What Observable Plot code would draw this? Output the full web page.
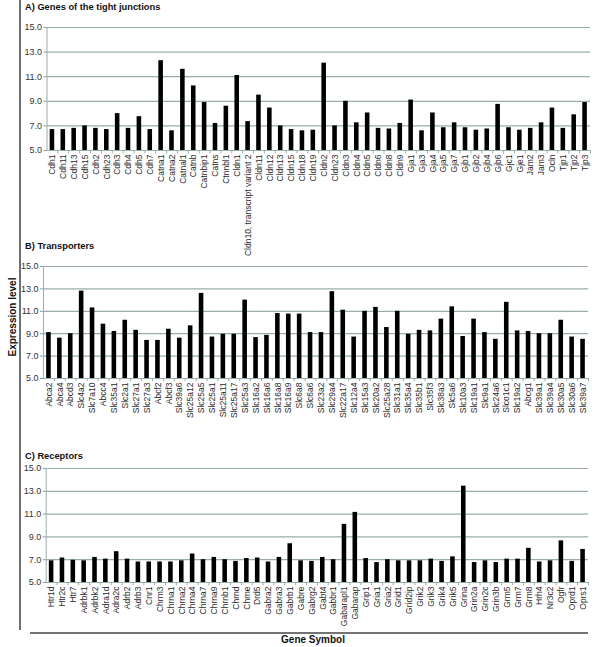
<!DOCTYPE html>
<html>
<head>
<meta charset="utf-8">
<script src="https://cdn.jsdelivr.net/npm/d3@7"></script>
<script src="https://cdn.jsdelivr.net/npm/@observablehq/plot@0.6"></script>
<style>
  body { margin: 0; background: #fff; }
  #fig { position: relative; width: 600px; height: 647px; overflow: hidden; font-family: "Liberation Sans", Arial, sans-serif; }
  #fig > svg { position: absolute; left: 0; }
  g[aria-label="y-axis tick"] { stroke: #8c9c9c; }
  g[aria-label="y-axis tick label"] { fill: #333; font-size: 9px; }
  g[aria-label="x-axis tick label"] { fill: #2a2a2a; }
</style>
</head>
<body>
<div id="fig"></div>
<script>
const yTicks = [5, 7, 9, 11, 13, 15];

const genesA = ["Cdh1","Cdh11","Cdh13","Cdh15","Cdh2","Cdh23","Cdh3","Cdh4","Cdh5","Cdh7",
  "Catna1","Catna2","Catnal1","Catnb","Catnbip1","Catns","Ctnnbl1","Cldn1","Cldn10, transcript variant 2","Cldn11",
  "Cldn12","Cldn13","Cldn15","Cldn18","Cldn19","Cldn2","Cldn23","Cldn3","Cldn4","Cldn5",
  "Cldn6","Cldn8","Cldn9","Gja1","Gja3","Gja4","Gja5","Gja7","Gjb1","Gjb2",
  "Gjb4","Gjb6","Gjc1","Gje1","Jam2","Jam3","Ocln","Tjp1","Tjp2","Tjp3"];
const valuesA = [6.7,6.7,6.8,7.0,6.8,6.7,8.0,6.8,7.75,6.7,
  12.3,6.6,11.6,10.25,8.9,7.2,8.6,11.1,7.35,9.5,
  8.45,7.0,6.7,6.6,6.65,12.1,7.0,9.0,7.25,8.05,
  6.8,6.75,7.2,9.1,6.6,8.05,6.85,7.25,6.85,6.65,
  6.75,8.75,6.85,6.65,6.8,7.25,8.45,6.8,7.9,8.9];

const genesB = ["Abca2","Abca4","Abcd3","Slc4a2","Slc7a10","Abcc4","Slc35a1","Slc2a1","Slc27a1","Slc27a3",
  "Abcf2","Abcf3","Slc39a6","Slc25a12","Slc25a5","Slc25a1","Slc25a11","Slc25a17","Slc25a3","Slc16a2",
  "Slc16a6","Slc16a8","Slc16a9","Slc6a8","Slc6a6","Slc23a2","Slc29a4","Slc22a17","Slc12a4","Slc15a3",
  "Slc20a2","Slc25a28","Slc31a1","Slc35a4","Slc35b1","Slc35f3","Slc38a3","Slc5a6","Slc10a3","Slc19a1",
  "Slc9a1","Slc24a6","Slco1c1","Slc19a2","Abcg1","Slc39a1","Slc39a4","Slc30a5","Slc30a6","Slc39a7"];
const valuesB = [9.1,8.6,9.0,12.8,11.3,9.85,9.2,10.2,9.3,8.4,
  8.4,9.4,8.6,9.7,12.6,8.7,8.95,8.95,12.0,8.65,
  8.85,10.8,10.75,10.75,9.1,9.1,12.75,11.1,8.7,11.0,
  11.35,9.55,11.0,8.95,9.3,9.25,10.3,11.4,8.75,10.3,
  9.1,8.5,11.8,9.25,9.2,9.0,9.0,10.2,8.7,8.5];

const genesC = ["Htr1d","Htr2c","Htr7","Adrbk1","Adrbk2","Adra1d","Adra2c","Adrb2","Adrb3","Cnr1",
  "Chrm3","Chrna1","Chrna2","Chrna4","Chrna7","Chrna9","Chrnb1","Chrnd","Chrne","Drd5",
  "Gabra2","Gabra3","Gabrb1","Gabre","Gabrg2","Gabt4","Gabbr1","Gabarapl1","Gabarap","Grip1",
  "Gria1","Gria2","Grid1","Grid2ip","Grik2","Grik3","Grik4","Grik5","Grina","Grin2a",
  "Grin2c","Grin3b","Grm5","Grm7","Grm8","Hrh4","Nr3c2","Ogfr","Oprd1","Oprs1"];
const valuesC = [6.9,7.15,6.95,6.9,7.2,7.05,7.7,7.05,6.8,6.8,
  6.8,6.8,6.9,7.5,7.0,7.2,7.0,6.85,7.1,7.15,
  6.8,7.2,8.4,6.9,6.85,7.2,7.0,10.1,11.15,7.1,
  6.75,7.0,6.9,6.9,6.9,7.05,6.85,7.25,13.45,6.75,
  6.9,6.75,7.05,7.05,8.0,6.8,6.9,8.65,6.85,7.9];

const FONT = '"Liberation Sans", Arial, sans-serif';
const GRID = "#9aacac";
const W = 600;

function panel(genes, values, o) {
  const step = (W - o.ml - o.mr) / genes.length;
  const data = genes.map((g, i) => ({gene: g, value: values[i]}));
  const svg = Plot.plot({
    width: W, height: o.height,
    marginTop: o.mt, marginBottom: o.mb, marginLeft: o.ml, marginRight: o.mr,
    style: {background: "transparent", fontFamily: FONT, fontSize: "8.5px", color: "#222", overflow: "visible"},
    x: {domain: genes, paddingInner: 0.58, paddingOuter: 0.29, tickRotate: -90, tickSize: 0, tickPadding: 4, label: null},
    y: {domain: [5, 15], ticks: yTicks, tickFormat: d => d.toFixed(1), tickSize: 3, tickPadding: 2, label: null},
    marks: [
      Plot.ruleY(yTicks, {y: d => d, stroke: GRID, strokeWidth: 1.2}),
      Plot.ruleX([genes[0]], {x: d => d, dx: -step / 2, y1: 5, y2: 15, stroke: GRID}),
      Plot.ruleX(genes, {x: d => d, dx: step / 2, y1: 5, y2: 4.72, stroke: GRID}),
      Plot.barY(data, {x: "gene", y1: 5, y2: "value", fill: "#000"})
    ]
  });
  svg.style.top = o.top + "px";
  return svg;
}

const fig = document.getElementById("fig");

// decorations overlay
const ov = d3.create("svg").attr("width", 600).attr("height", 647).style("top", "0px");
ov.append("line").attr("x1", 20).attr("x2", 20).attr("y1", 0).attr("y2", 630).attr("stroke", "#333").attr("stroke-width", 1.4);
ov.append("line").attr("x1", 30).attr("x2", 588).attr("y1", 633).attr("y2", 633).attr("stroke", "#444").attr("stroke-width", 1.6);
const titles = [["A) Genes of the tight junctions", 9.5], ["B) Transporters", 249], ["C) Receptors", 459]];
titles.forEach(([t, y]) => ov.append("text").attr("x", 25).attr("y", y).attr("font-family", FONT)
  .attr("font-size", 9.3).attr("font-weight", "bold").attr("fill", "#111").text(t));
ov.append("text").attr("transform", "translate(16,317) rotate(-90)").attr("text-anchor", "middle")
  .attr("font-family", FONT).attr("font-size", 10).attr("font-weight", "bold").attr("fill", "#111").text("Expression level");
ov.append("text").attr("x", 313).attr("y", 643).attr("text-anchor", "middle")
  .attr("font-family", FONT).attr("font-size", 10).attr("font-weight", "bold").attr("fill", "#111").text("Gene Symbol");
fig.appendChild(ov.node());

fig.appendChild(panel(genesA, valuesA, {top: 0, height: 250, mt: 27, mb: 100, ml: 46.5, mr: 10}));
fig.appendChild(panel(genesB, valuesB, {top: 240, height: 210, mt: 26, mb: 72, ml: 43, mr: 12}));
fig.appendChild(panel(genesC, valuesC, {top: 450, height: 190, mt: 18, mb: 58, ml: 45.7, mr: 12}));
</script>
</body>
</html>
